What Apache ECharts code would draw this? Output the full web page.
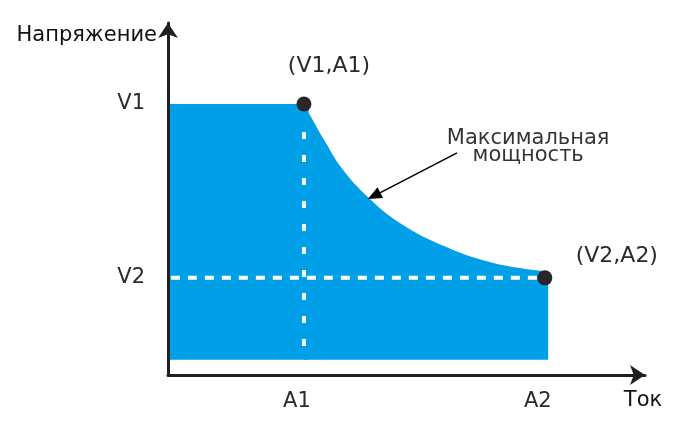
<!DOCTYPE html>
<html>
<head>
<meta charset="utf-8">
<script src="https://cdn.jsdelivr.net/npm/echarts@6/dist/echarts.min.js"></script>
<style>
  html, body { margin: 0; padding: 0; background: #fff; }
  #chart { width: 691px; height: 438px; }
</style>
</head>
<body>
<div id="chart"></div>
<script>
// operating limits (arbitrary units on a 0..100 scale)
const A1 = 28.5, A2 = 79.0
const V1 = 77.0, V2 = 27.6
const fillBottom = 4.3

// constant voltage segment (runs a little under the V1/A1 dot)
const flatX = [0.4, 29.5]
const flatY = [77.0, 77.0]
// max power curve
const curveX = [28.5, 32.9, 36.4, 41.7, 48.6, 58.1, 68.6, 79.7]
const curveY = [77.0, 66.4, 58.8, 50.8, 43.2, 36.5, 31.7, 29.4]

const xTickValues = [A1, A2]
const xTickNames = ['A1', 'A2']
const yTickValues = [V1, V2]
const yTickNames = ['V1', 'V2']

const pointNames = ['(V1,A1)', '(V2,A2)']
const noteText = 'Максимальная\nмощность'
const notePos = [75.5, 64.8]
const arrowFrom = [60.6, 63.1]
const arrowTo = [43.2, 50.9]

const chart = echarts.init(document.getElementById('chart'))

const font = 'DejaVu Sans'
const axisColor = '#231f20'
const blue = '#00a0e9'

const option = {
  animation: false,
  grid: { left: 168, right: 46, top: 23, bottom: 63 },
  xAxis: {
    type: 'value',
    min: 0,
    max: 100,
    name: 'Ток',
    nameLocation: 'end',
    nameGap: -2,
    nameTextStyle: {
      fontFamily: font, fontSize: 21, color: '#111',
      align: 'center', verticalAlign: 'top', padding: [15, 0, 0, 0]
    },
    axisLine: {
      show: true,
      symbol: ['none', 'arrow'],
      symbolSize: [15, 15],
      lineStyle: { color: axisColor, width: 3 }
    },
    axisTick: { show: false },
    splitLine: { show: false },
    axisLabel: {
      customValues: xTickValues,
      formatter: v => xTickNames[xTickValues.indexOf(v)],
      margin: 16,
      padding: [0, 14, 0, 0],
      fontFamily: font, fontSize: 21, color: '#2a2a2a'
    }
  },
  yAxis: {
    type: 'value',
    min: 0,
    max: 100,
    name: 'Напряжение',
    nameLocation: 'end',
    nameGap: -13,
    nameTextStyle: {
      fontFamily: font, fontSize: 21, color: '#111',
      align: 'right', verticalAlign: 'middle', padding: [0, 11, 0, 0]
    },
    axisLine: {
      show: true,
      symbol: ['none', 'arrow'],
      symbolSize: [15, 15],
      lineStyle: { color: axisColor, width: 3 }
    },
    axisTick: { show: false },
    splitLine: { show: false },
    axisLabel: {
      customValues: yTickValues,
      formatter: v => yTickNames[yTickValues.indexOf(v)],
      margin: 23,
      fontFamily: font, fontSize: 21, color: '#2a2a2a'
    }
  },
  series: [
    {
      name: 'constant voltage',
      type: 'line',
      data: flatX.map((x, i) => [x, flatY[i]]),
      showSymbol: false,
      lineStyle: { width: 0 },
      areaStyle: { color: blue, opacity: 1, origin: fillBottom },
      z: 1
    },
    {
      name: 'max power',
      type: 'line',
      data: curveX.map((x, i) => [x, curveY[i]]),
      showSymbol: false,
      smooth: 0.4,
      lineStyle: { width: 0 },
      areaStyle: { color: blue, opacity: 1, origin: fillBottom },
      z: 1
    },
    {
      name: 'A1 guide',
      type: 'line',
      data: [[A1, V1 - 8], [A1, 7.8]],
      showSymbol: false,
      lineStyle: { color: '#fff', width: 4, type: [7, 16] },
      z: 2
    },
    {
      name: 'V2 guide',
      type: 'line',
      data: [[0.6, V2], [A2 - 1, V2]],
      showSymbol: false,
      lineStyle: { color: '#fff', width: 4, type: [9, 8] },
      z: 2
    },
    {
      name: 'points',
      type: 'scatter',
      data: [[A1, V1], [A2, V2]],
      symbolSize: 15,
      itemStyle: { color: '#2b2527', opacity: 1 },
      label: {
        show: true,
        position: 'inside',
        formatter: p => pointNames[p.dataIndex],
        fontFamily: font, fontSize: 22, color: '#2a2a2a'
      },
      labelLayout: p => ({ dx: p.dataIndex === 0 ? 25 : 72, dy: p.dataIndex === 0 ? -38 : -22 }),
      z: 3
    },
    {
      name: 'note',
      type: 'scatter',
      data: [notePos],
      symbolSize: 0,
      label: {
        show: true,
        position: 'inside',
        formatter: noteText,
        fontFamily: font, fontSize: 21, lineHeight: 17, color: '#000'
      },
      markLine: {
        silent: true,
        symbol: ['none', 'triangle'],
        symbolSize: [12, 14],
        label: { show: false },
        lineStyle: { color: '#000', width: 1.5, type: 'solid' },
        data: [[{ coord: arrowFrom }, { coord: arrowTo }]]
      },
      z: 3
    }
  ]
}

chart.setOption(option)
window.addEventListener('resize', () => chart.resize())
</script>
</body>
</html>
